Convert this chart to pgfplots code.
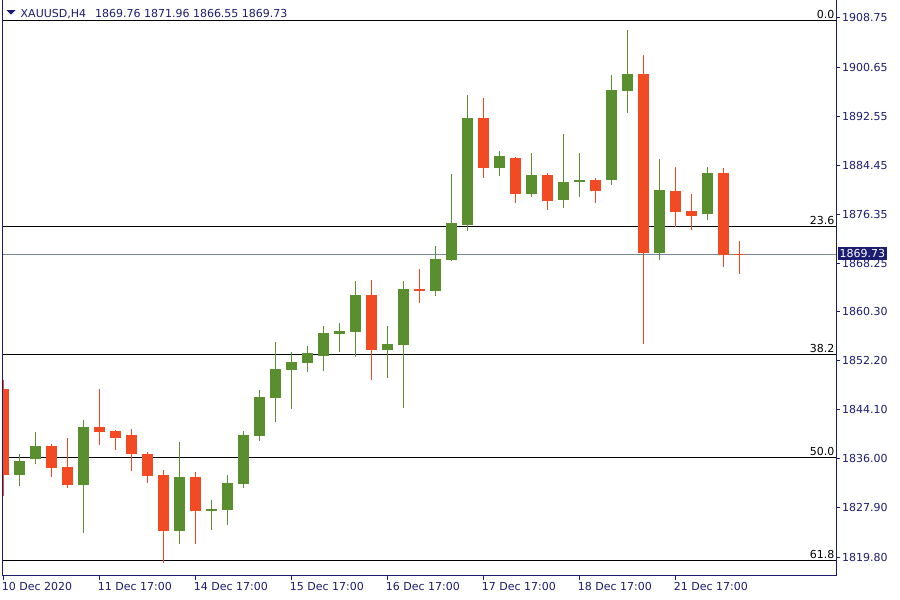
\documentclass[border=0pt]{standalone}
\usepackage{pgfplots}
\pgfplotsset{compat=1.18}
\usepackage{pgfplotstable}
\usepackage{fontspec}
\setmainfont{DejaVu Sans}
\definecolor{navy}{RGB}{28,28,112}
\definecolor{bull}{RGB}{90,143,47}
\definecolor{bear}{RGB}{242,75,36}
\definecolor{pline}{RGB}{119,136,153}

\pgfplotstableread{
k O H L C
1 1833.38 1836.80 1831.56 1835.64
2 1836.02 1840.43 1835.19 1838.12
5 1831.73 1842.41 1823.81 1841.25
11 1824.14 1838.78 1822.00 1833.00
13 1827.44 1829.20 1824.30 1827.72
14 1827.60 1833.33 1825.13 1832.01
15 1831.90 1840.59 1831.23 1839.93
16 1839.82 1847.36 1838.99 1846.20
17 1846.09 1855.28 1842.08 1850.82
18 1850.71 1853.63 1844.27 1851.98
19 1851.86 1854.62 1850.38 1853.47
20 1853.02 1857.92 1850.54 1856.77
21 1856.65 1858.42 1853.68 1857.09
22 1856.98 1865.35 1852.85 1863.04
24 1854.01 1857.92 1849.39 1854.95
25 1854.83 1865.35 1844.44 1864.03
27 1863.75 1871.12 1862.92 1868.98
28 1868.86 1883.00 1868.70 1874.92
29 1874.64 1896.04 1873.65 1892.25
31 1884.04 1886.80 1882.72 1885.98
33 1879.75 1886.47 1879.26 1882.84
35 1878.76 1889.61 1877.44 1881.68
36 1881.73 1886.47 1879.26 1882.06
38 1882.06 1899.34 1881.24 1896.87
39 1896.75 1906.77 1893.12 1899.51
41 1870.02 1885.48 1868.86 1880.36
44 1876.45 1884.16 1875.46 1883.17
}\bulltable

\pgfplotstableread{
k O H L C
0 1847.52 1849.01 1829.92 1833.38
3 1838.12 1838.45 1833.05 1834.54
4 1834.65 1839.44 1831.23 1831.73
6 1841.25 1847.52 1838.33 1840.48
7 1840.59 1840.75 1837.51 1839.49
8 1839.93 1840.92 1834.04 1836.85
9 1836.80 1837.13 1832.06 1833.22
10 1833.33 1834.16 1818.86 1824.14
12 1833.00 1833.82 1822.00 1827.44
23 1863.04 1865.51 1849.06 1854.01
26 1864.03 1867.33 1861.77 1863.75
30 1892.25 1895.55 1882.39 1884.04
32 1885.65 1885.81 1878.27 1879.75
34 1882.84 1883.17 1877.11 1878.60
37 1882.01 1882.34 1878.27 1880.25
40 1899.51 1902.64 1854.99 1870.02
42 1880.20 1884.16 1874.31 1876.78
43 1876.90 1879.70 1873.81 1876.12
45 1883.17 1884.00 1867.71 1869.69
46 1869.76 1871.96 1866.55 1869.73
}\beartable

\begin{document}
\begin{tikzpicture}
\path[use as bounding box] (0,0) rectangle (900pt,-600pt);
\begin{axis}[
  name=ax,
  at={(2.5pt,-575.5pt)}, anchor=south west,
  scale only axis, width=833.5pt, height=575.5pt,
  xmin=-0.05, xmax=52.04, ymin=1816.75, ymax=1911.72,
  axis line style={draw=none},
  tick align=outside, major tick length=4pt,
  tick style={navy, line width=1pt},
  xtick pos=bottom, ytick pos=right,
  xtick={0,6,12,18,24,30,36,42},
  xticklabels={10 Dec 2020,11 Dec 17:00,14 Dec 17:00,15 Dec 17:00,16 Dec 17:00,17 Dec 17:00,18 Dec 17:00,21 Dec 17:00},
  ytick={1819.80,1827.90,1836.00,1844.10,1852.20,1860.30,1868.25,1876.35,1884.45,1892.55,1900.65,1908.75},
  yticklabels={1819.80,1827.90,1836.00,1844.10,1852.20,1860.30,1868.25,1876.35,1884.45,1892.55,1900.65,1908.75},
  xticklabel style={font=\fontsize{11}{13}\selectfont, text=navy, anchor=north west, inner sep=0pt, xshift=-1.6pt, yshift=-3pt},
  yticklabel style={font=\fontsize{11}{13}\selectfont, text=navy, anchor=west, inner sep=0pt, xshift=2pt},
  clip=true,
]
% fibonacci levels
\addplot[black, line width=0.9pt, forget plot] coordinates {(-1,1908.42) (53,1908.42)};
\addplot[black, line width=0.9pt, forget plot] coordinates {(-1,1874.37) (53,1874.37)};
\addplot[black, line width=0.9pt, forget plot] coordinates {(-1,1853.30) (53,1853.30)};
\addplot[black, line width=0.9pt, forget plot] coordinates {(-1,1836.28) (53,1836.28)};
\addplot[black, line width=0.9pt, forget plot] coordinates {(-1,1819.25) (53,1819.25)};
% current price line
\addplot[pline, line width=0.8pt, forget plot] coordinates {(-1,1869.73) (53,1869.73)};
% wicks
\addplot[draw=none, mark=none, forget plot,
  error bars/.cd, y dir=both, y explicit, error mark=none,
  error bar style={draw=bull, line width=1.1pt}]
  table[x=k, y expr={(\thisrow{H}+\thisrow{L})/2}, y error expr={(\thisrow{H}-\thisrow{L})/2}] {\bulltable};
\addplot[draw=none, mark=none, forget plot,
  error bars/.cd, y dir=both, y explicit, error mark=none,
  error bar style={draw=bear, line width=1.1pt}]
  table[x=k, y expr={(\thisrow{H}+\thisrow{L})/2}, y error expr={(\thisrow{H}-\thisrow{L})/2}] {\beartable};
% bodies
\addplot[draw=none, mark=none, forget plot,
  error bars/.cd, y dir=both, y explicit, error mark=none,
  error bar style={draw=bull, line width=10.7pt}]
  table[x=k, y expr={(\thisrow{O}+\thisrow{C})/2}, y error expr={max(abs(\thisrow{C}-\thisrow{O})/2,0.09)}] {\bulltable};
\addplot[draw=none, mark=none, forget plot,
  error bars/.cd, y dir=both, y explicit, error mark=none,
  error bar style={draw=bear, line width=10.7pt}]
  table[x=k, y expr={(\thisrow{O}+\thisrow{C})/2}, y error expr={max(abs(\thisrow{C}-\thisrow{O})/2,0.09)}] {\beartable};
% fib labels
\node[anchor=south east, inner sep=0pt, yshift=1.5pt, font=\fontsize{11}{13}\selectfont] at (axis cs:51.95,1908.42) {0.0};
\node[anchor=south east, inner sep=0pt, yshift=1.5pt, font=\fontsize{11}{13}\selectfont] at (axis cs:51.95,1874.37) {23.6};
\node[anchor=south east, inner sep=0pt, yshift=1.5pt, font=\fontsize{11}{13}\selectfont] at (axis cs:51.95,1853.30) {38.2};
\node[anchor=south east, inner sep=0pt, yshift=1.5pt, font=\fontsize{11}{13}\selectfont] at (axis cs:51.95,1836.28) {50.0};
\node[anchor=south east, inner sep=0pt, yshift=1.5pt, font=\fontsize{11}{13}\selectfont] at (axis cs:51.95,1819.25) {61.8};
\end{axis}
% chart frame
\draw[navy, line width=1pt] (ax.north west) -- (ax.south west) -- (ax.south east) -- (ax.north east);
% current price tag
\node[fill=navy, text=white, anchor=west, inner xsep=2pt, inner ysep=2pt, font=\fontsize{11}{13}\selectfont] at (837.5pt,-253.5pt) {1869.73};
% title
\fill[navy] (6.5pt,-10pt) -- (15.5pt,-10pt) -- (11pt,-14.5pt) -- cycle;
\node[anchor=base west, inner sep=0pt, text=navy, font=\fontsize{11}{13}\selectfont] at (20.5pt,-17.3pt) {XAUUSD,H4\hspace{0.5em} 1869.76 1871.96 1866.55 1869.73};
\end{tikzpicture}
\end{document}
